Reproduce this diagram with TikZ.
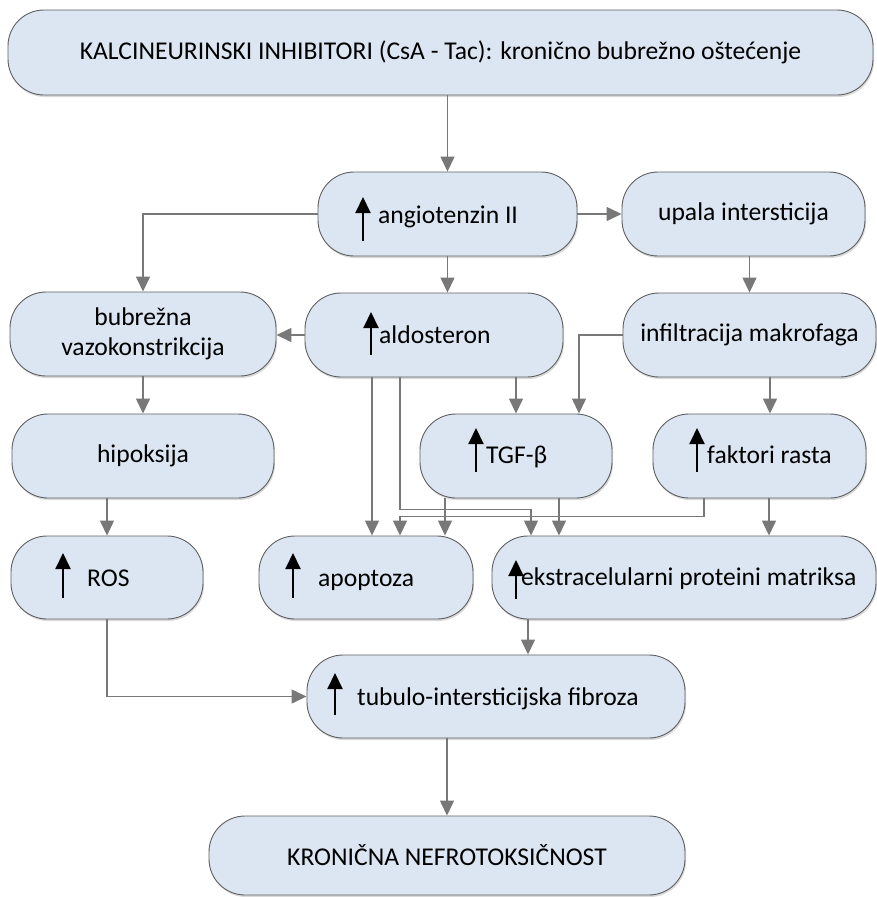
\documentclass[tikz,border=0pt]{standalone}
\usepackage{fontspec}
\setmainfont{Carlito}
\usetikzlibrary{arrows.meta,shadows}
\definecolor{boxfill}{RGB}{220,230,242}
\definecolor{boxline}{RGB}{95,95,95}
\definecolor{conn}{RGB}{120,120,120}
\begin{document}
\begin{tikzpicture}[x=1pt,y=-1pt,
 box/.style={draw=boxline, fill=boxfill, line width=0.9pt, rounded corners=36pt, inner sep=0pt,
   font=\fontsize{25.6}{30}\selectfont, align=center,
   drop shadow={shadow xshift=1pt, shadow yshift=-2pt, opacity=0.15, fill=black}},
 lbl/.style={font=\fontsize{25.6}{30}\selectfont, inner sep=0pt, anchor=base west},
 arr/.style={draw=conn, line width=1.4pt, -{Triangle[length=15pt,width=14pt]}},
 uparr/.style={draw=black, line width=2pt, -{Triangle[length=16pt,width=15pt]}},
]
\useasboundingbox (0,0) rectangle (877,897);

% boxes
\node[box, minimum width=865pt, minimum height=85pt] (top) at (440.5,52.5) {KALCINEURINSKI INHIBITORI (CsA - Tac): kronično bubrežno oštećenje};
\node[box, minimum width=259pt, minimum height=84pt] (ang) at (447.5,214) {};
\node[box, minimum width=243pt, minimum height=84pt] (upa) at (743.5,214) {upala intersticija};
\node[box, minimum width=266pt, minimum height=84pt] (bub) at (143,334) {bubrežna\\vazokonstrikcija};
\node[box, minimum width=258pt, minimum height=84pt] (ald) at (434,335) {};
\node[box, minimum width=253pt, minimum height=84pt] (inf) at (749.5,335) {infiltracija makrofaga};
\node[box, minimum width=262pt, minimum height=84pt] (hip) at (143,456) {hipoksija};
\node[box, minimum width=192pt, minimum height=84pt] (tgf) at (516,456) {};
\node[box, minimum width=213pt, minimum height=84pt] (fak) at (759.5,456) {};
\node[box, minimum width=192pt, minimum height=83pt] (ros) at (107,577.5) {};
\node[box, minimum width=214pt, minimum height=83pt] (apo) at (366,577.5) {};
\node[box, minimum width=384pt, minimum height=83pt] (ekm) at (684,577.5) {};
\node[box, minimum width=378pt, minimum height=83pt] (tub) at (496,696.5) {};
\node[box, minimum width=476pt, minimum height=79pt] (kro) at (447,855.5) {KRONIČNA NEFROTOKSIČNOST};

% labels with up arrows
\node[lbl] (t-ang) at (378,223) {angiotenzin II};
\node[lbl] (t-ald) at (379,343) {aldosteron};
\node[lbl] (t-tgf) at (486,463) {TGF-β};
\node[lbl] (t-fak) at (707,463) {faktori rasta};
\node[lbl] (t-ros) at (87,586) {ROS};
\node[lbl] (t-apo) at (318,586) {apoptoza};
\node[lbl] (t-ekm) at (521,585) {ekstracelularni proteini matriksa};
\node[lbl] (t-tub) at (357,705) {tubulo-intersticijska fibroza};

\draw[uparr] (363,241) -- (363,197);
\draw[uparr] (371,355) -- (371,312);
\draw[uparr] (476,472) -- (476,428);
\draw[uparr] (697,472) -- (697,428);
\draw[uparr] (63,598) -- (63,553);
\draw[uparr] (293,598) -- (293,553);
\draw[uparr] (516,599) -- (516,560);
\draw[uparr] (335,715) -- (335,673);

% connectors
\draw[arr] (ang.north |- top.south) -- (ang.north);
\draw[arr] (ang.east) -- (upa.west);
\draw[arr] (ang.west) -| (bub.north);
\draw[arr] (ang.south) -- (ang.south |- ald.north);
\draw[arr] (ald.west) -- (ald.west -| bub.east);
\draw[arr] (inf.north |- upa.south) -- (inf.north);
\draw[arr] (inf.west) -| ([xshift=63pt]tgf.north);
\draw[arr] (ald.south -| tgf.north) -- (tgf.north);
\draw[arr] ([xshift=20.5pt]inf.south) -- ([xshift=20.5pt]inf.south |- fak.north);
\draw[arr] (bub.south) -- (hip.north);
\draw[arr] (hip.south -| ros.north) -- (ros.north);
\draw[arr] ([xshift=-62pt]ald.south) -- ([xshift=-62pt]ald.south |- apo.north);
\draw[arr] ([xshift=-34pt]ald.south) |- ([xshift=-153pt,yshift=26pt]ekm.north) -- ([xshift=-153pt]ekm.north);
\draw[arr] ([xshift=-55.5pt]fak.south) |- ([xshift=34pt,yshift=19pt]apo.north) -- ([xshift=34pt]apo.north);
\draw[arr] ([xshift=-71pt]tgf.south) -- ([xshift=-71pt]tgf.south |- apo.north);
\draw[arr] ([xshift=43pt]tgf.south) -- ([xshift=43pt]tgf.south |- ekm.north);
\draw[arr] ([xshift=9.5pt]fak.south) -- ([xshift=9.5pt]fak.south |- ekm.north);
\draw[arr] ([xshift=-156pt]ekm.south) -- ([xshift=-156pt]ekm.south |- tub.north);
\draw[arr] (ros.south) |- (tub.west);
\draw[arr] (tub.south -| kro.north) -- (kro.north);
\end{tikzpicture}
\end{document}
